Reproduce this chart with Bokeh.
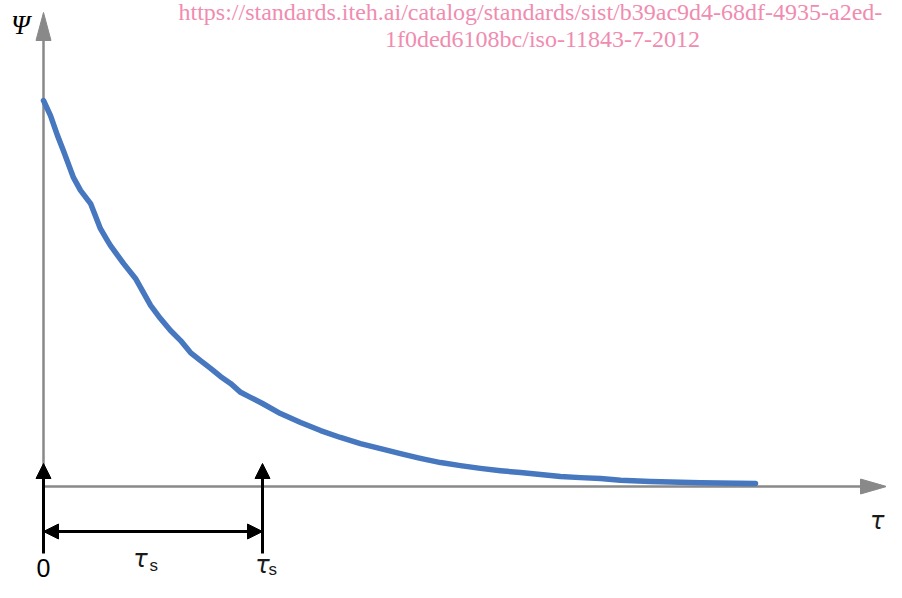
from bokeh.plotting import figure
from bokeh.models import Range1d, Arrow, NormalHead, Label
from bokeh.embed import file_html
from bokeh.resources import INLINE

# ---- data (tau in units of tau_s, psi normalised) ----
tau = [0.0, 0.032, 0.064, 0.091, 0.137, 0.169, 0.215, 0.260, 0.292, 0.306, 0.365,
       0.420, 0.489, 0.534, 0.580, 0.626, 0.671, 0.717, 0.763, 0.808, 0.854, 0.900,
       0.945, 1.0, 1.082, 1.174, 1.265, 1.356, 1.447, 1.539, 1.630, 1.721, 1.813,
       1.904, 1.995, 2.087, 2.178, 2.269, 2.361, 2.452, 2.543, 2.635, 2.772, 3.0, 3.251]
psi = [1.0, 0.961, 0.909, 0.870, 0.800, 0.767, 0.733, 0.668, 0.637, 0.624, 0.578,
       0.539, 0.469, 0.435, 0.404, 0.378, 0.347, 0.326, 0.306, 0.285, 0.267, 0.244,
       0.231, 0.215, 0.189, 0.166, 0.145, 0.127, 0.111, 0.098, 0.085, 0.073, 0.062,
       0.054, 0.047, 0.041, 0.036, 0.031, 0.026, 0.023, 0.021, 0.016, 0.013, 0.010, 0.008]
TAU_S = 1.0
x_axis_label = "τ"
y_axis_label = "Ψ"
origin_label = "0"
tau_s_label = ("τ", "s")
watermark = ["https://standards.iteh.ai/catalog/standards/sist/b39ac9d4-68df-4935-a2ed-",
             "1f0ded6108bc/iso-11843-7-2012"]

# ---- layout: pixel scale ----
W, H = 886, 582
PX_X = 219.0   # px per tau unit
PX_Y = 386.0   # px per psi unit
OX, OY = 43.0, 486.0  # origin position in px (from left / from top)
SHIFT = 8.0           # rendered text sits this much below its anchor

def tx(px):
    return (px - OX) / PX_X

def ty(py):
    return (OY - py) / PX_Y

def tb(py):  # text baseline position corrected for rendering offset
    return ty(py - SHIFT)

p = figure(width=W, height=H, output_backend="svg", toolbar_location=None,
           x_range=Range1d(tx(0), tx(W)), y_range=Range1d(ty(H), ty(0)),
           x_axis_type=None, y_axis_type=None, min_border=0)
p.grid.visible = False
p.outline_line_color = None
p.background_fill_color = "white"
p.border_fill_color = "white"

GRAY = "#898989"
BLACK = "#000000"
BLUE = "#4677BF"
TXT = "#1a1a1a"

# gray axes (lines + elongated heads)
p.segment(x0=[0, 0], y0=[0, 0], x1=[0, tx(862)], y1=[ty(38), 0],
          line_color=GRAY, line_width=2.5)
p.patch([tx(35.5), 0, tx(50.5)], [ty(40), ty(12), ty(40)],
        fill_color=GRAY, line_color=GRAY, line_width=1)
p.patch([tx(860), tx(886), tx(860)], [ty(478.5), 0, ty(493.5)],
        fill_color=GRAY, line_color=GRAY, line_width=1)

# curve
p.line(tau, psi, line_width=5.5, color=BLUE, line_join="round", line_cap="round")

# black markers
for xv in (0.0, TAU_S):
    p.add_layout(Arrow(end=NormalHead(size=15, fill_color=BLACK, line_color=BLACK, line_width=1),
                       x_start=xv, y_start=ty(553), x_end=xv, y_end=ty(463),
                       line_color=BLACK, line_width=3))
p.add_layout(Arrow(start=NormalHead(size=15, fill_color=BLACK, line_color=BLACK, line_width=1),
                   end=NormalHead(size=15, fill_color=BLACK, line_color=BLACK, line_width=1),
                   x_start=0.0, y_start=ty(531), x_end=TAU_S, y_end=ty(531),
                   line_color=BLACK, line_width=3))

# labels
p.add_layout(Label(x=tx(20), y=tb(32), text=y_axis_label, text_font="Liberation Serif",
                   text_font_style="italic", text_font_size="27px", text_color=BLACK,
                   text_align="center", text_baseline="alphabetic"))
p.add_layout(Label(x=tx(884), y=tb(528), text=x_axis_label, text_font="DejaVu Sans",
                   text_font_style="italic", text_font_size="24px", text_color=TXT,
                   text_align="right", text_baseline="alphabetic"))
p.add_layout(Label(x=0.0, y=tb(575), text=origin_label, text_font="Liberation Sans",
                   text_font_size="25px", text_color=BLACK,
                   text_align="center", text_baseline="alphabetic"))
# tau_s in the middle of the span
p.add_layout(Label(x=tx(140), y=tb(566), text=tau_s_label[0], text_font="DejaVu Sans",
                   text_font_style="italic", text_font_size="24px", text_color=TXT,
                   text_align="center", text_baseline="alphabetic"))
p.add_layout(Label(x=tx(149), y=tb(573), text=tau_s_label[1], text_font="Liberation Sans",
                   text_font_size="17px", text_color=TXT,
                   text_align="left", text_baseline="alphabetic"))
# tau_s under the marker
p.add_layout(Label(x=TAU_S, y=tb(572), text=tau_s_label[0], text_font="DejaVu Sans",
                   text_font_style="italic", text_font_size="24px", text_color=TXT,
                   text_align="center", text_baseline="alphabetic"))
p.add_layout(Label(x=tx(268), y=tb(577), text=tau_s_label[1], text_font="Liberation Sans",
                   text_font_size="17px", text_color=TXT,
                   text_align="left", text_baseline="alphabetic"))

# watermark
PINK = "#F08CB0"
p.add_layout(Label(x=tx(178), y=tb(19), text=watermark[0], text_font="Liberation Serif",
                   text_font_size="24px", text_color=PINK,
                   text_align="left", text_baseline="alphabetic"))
p.add_layout(Label(x=tx(542), y=tb(46), text=watermark[1], text_font="Liberation Serif",
                   text_font_size="24px", text_color=PINK,
                   text_align="center", text_baseline="alphabetic"))

open("out.html", "w").write(file_html(p, INLINE))
